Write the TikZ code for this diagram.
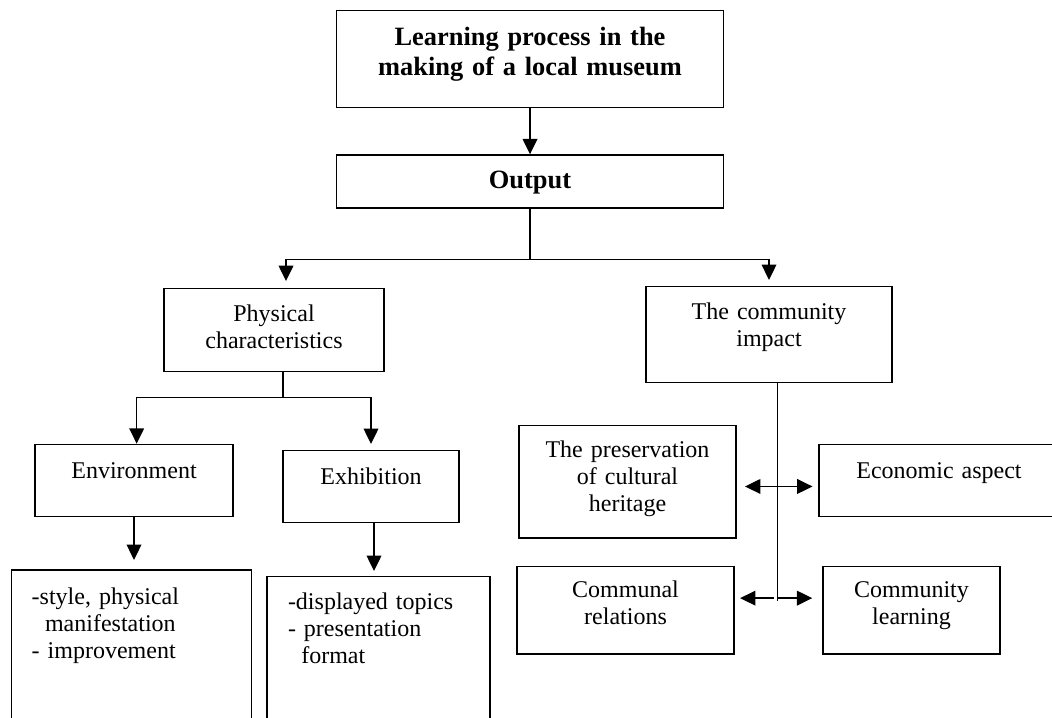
\documentclass[tikz,border=0pt]{standalone}
\usepackage{fontspec}
\setmainfont{Liberation Serif}
\usetikzlibrary{arrows.meta}

\begin{document}
\begin{tikzpicture}[x=0.75pt, y=-0.75pt, >={Triangle[length=11.5pt,width=11pt]},
  every node/.style={align=center, font=\fontsize{18}{20.4}\selectfont},
  box/.style={draw, line width=1.1pt, anchor=north, inner xsep=0pt, inner ysep=0pt},
  head/.style={font=\fontsize{19.8}{22.5}\selectfont\bfseries},
  link/.style={line width=1pt}]
\useasboundingbox (0,0) rectangle (1052,717);
\clip (0,0) rectangle (1052,717);

\node (title)     [box, head, text width=290.25pt, text height=26.25pt, text depth=46.5pt] at (530,10)    {Learning process in the\\making of a local museum};
\node (output)    [box, head, text width=290.25pt, text height=25.3pt, text depth=14.5pt]  at (530,154.3) {Output};
\node (phys)      [box, text width=165pt, text height=24.75pt, text depth=37.5pt]   at (274,287.7)   {Physical\\characteristics};
\node (impact)    [box, text width=184.5pt, text height=24.5pt, text depth=47.5pt]  at (769,285.7)   {The community\\impact};
\node (env)       [box, text width=148.5pt, text height=25.5pt, text depth=28.5pt]  at (134,443.7)   {Environment};
\node (exh)       [box, text width=132pt, text height=25pt, text depth=29pt]        at (371,450)     {Exhibition};
\node (envd)      [box, align=left, text width=150pt, inner xsep=15pt, text height=25.5pt, text depth=120pt]       at (131.7,569.3) {-style, physical\\\hspace*{10pt}manifestation\\- improvement};
\node (exhd)      [box, align=left, text width=135.75pt, inner xsep=15.75pt, text height=24.2pt, text depth=120pt] at (378.5,576)   {-displayed topics\\- presentation\\\hspace*{10pt}format};
\node (preserve)  [box, text width=162.75pt, text height=23.8pt, text depth=60.5pt] at (627.5,425)   {The preservation\\of cultural\\heritage};
\node (econ)      [box, text width=180pt, text height=25pt, text depth=29pt]        at (939,444)     {Economic aspect};
\node (communal)  [box, text width=162.75pt, text height=23.25pt, text depth=42.5pt] at (625.5,565.7) {Communal\\relations};
\node (commlearn) [box, text width=132.75pt, text height=23.25pt, text depth=42.5pt] at (911.5,565.7) {Community\\learning};

\draw[link, ->] (title) -- (output);
\draw[link, ->, shorten >=5pt]   (output.south) -- ++(0,50.7) -| ([xshift=9pt]phys.north);
\draw[link, ->, shorten >=4.3pt] (output.south) -- ++(0,50.7) -| (impact.north);
\draw[link, ->]                  ([xshift=6.75pt]phys.south) -- ++(0,25) -| ([xshift=2pt]env.north);
\draw[link, ->, shorten >=4.5pt] ([xshift=6.75pt]phys.south) -- ++(0,25) -| (exh.north);
\draw[link, ->, shorten >=7pt]   (env.south) -- (env.south |- envd.north);
\draw[link, ->, shorten >=3.75pt] ([xshift=2.25pt]exh.south) -- ([xshift=2.25pt]exh.south |- exhd.north);
\draw[link] ([xshift=6.5pt]impact.south) -- ++(0,218.3) coordinate (stem);
\draw[link, <->, shorten <=6.2pt, shorten >=4.3pt] ([yshift=-3.4pt]preserve.east) -- ([yshift=-3.4pt]preserve.east -| econ.west);
\draw[link, ->, shorten >=4pt]   ([shift={(-2.8pt,2.5pt)}]stem) -- ([yshift=2.5pt]stem -| communal.east);
\draw[link, ->, shorten >=7.5pt] ([yshift=2.5pt]stem) -- ([yshift=2.5pt]stem -| commlearn.west);
\end{tikzpicture}
\end{document}
